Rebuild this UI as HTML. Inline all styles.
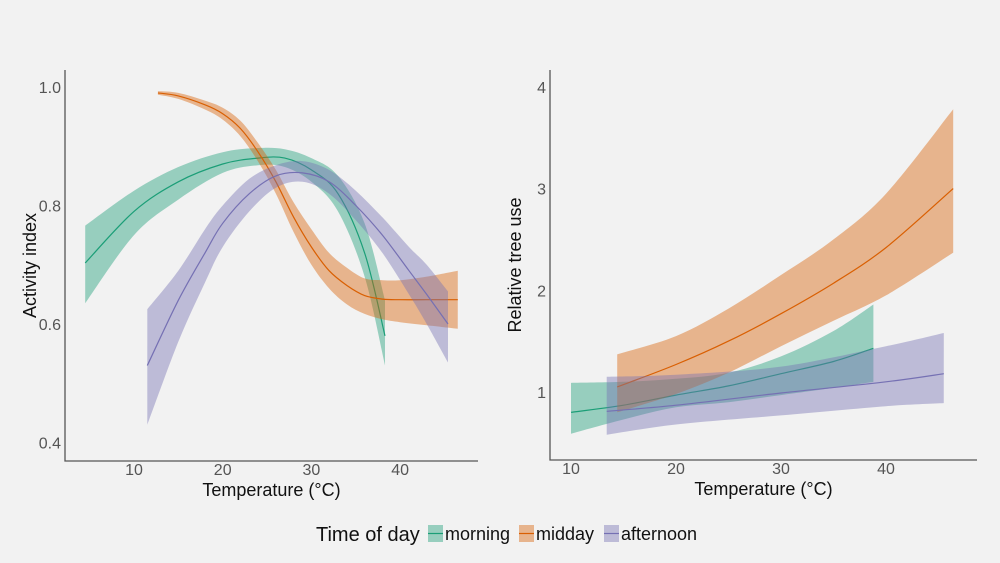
<!DOCTYPE html>
<html><head><meta charset="utf-8"><style>
body{margin:0;background:#f2f2f2;}
svg{display:block;font-family:"Liberation Sans",Arial,sans-serif;}
</style></head><body>
<svg id="c" width="1000" height="563" viewBox="0 0 1000 563">
<rect width="1000" height="563" fill="#f2f2f2"/>
</svg>
<script>
// ---- Left panel data (Activity index) ----
const leftXTicks=[10,20,30,40];
const leftYTicks=[0.4,0.6,0.8,1.0];
const leftYTickLabels=["0.4","0.6","0.8","1.0"];
const lMornX=[4.5,10,15,20,24,27,30,33,36,38.3];
const lMornY=[0.703,0.79,0.84,0.87,0.88,0.88,0.86,0.82,0.72,0.58];
const lMornLo=[0.635,0.75,0.81,0.855,0.868,0.865,0.84,0.79,0.68,0.53];
const lMornHi=[0.766,0.825,0.865,0.89,0.897,0.895,0.88,0.85,0.77,0.64];
const lMidX=[12.7,15,18,20,22,24,26,28,30,32,34,36,38,40,43,46.5];
const lMidY=[0.99,0.985,0.97,0.955,0.93,0.89,0.84,0.78,0.73,0.69,0.665,0.648,0.642,0.641,0.641,0.641];
const lMidLo=[0.987,0.98,0.962,0.945,0.917,0.874,0.82,0.755,0.7,0.66,0.633,0.617,0.608,0.603,0.598,0.592];
const lMidHi=[0.993,0.99,0.977,0.965,0.943,0.905,0.86,0.805,0.76,0.72,0.695,0.677,0.674,0.674,0.68,0.69];
const lAftX=[11.5,15,18,20,23,26,29,32,35,38,41,43,45.4];
const lAftY=[0.53,0.64,0.72,0.77,0.82,0.85,0.855,0.84,0.8,0.75,0.69,0.65,0.6];
const lAftLo=[0.43,0.57,0.67,0.73,0.79,0.83,0.84,0.82,0.775,0.72,0.65,0.6,0.535];
const lAftHi=[0.625,0.69,0.76,0.8,0.845,0.868,0.875,0.86,0.825,0.78,0.73,0.7,0.655];
// ---- Right panel data (Relative tree use) ----
const rightXTicks=[10,20,30,40];
const rightYTicks=[1,2,3,4];
const rMornX=[10,15,20,25,30,35,38.8];
const rMornY=[0.8,0.87,0.97,1.06,1.18,1.3,1.43];
const rMornLo=[0.59,0.73,0.85,0.9,0.97,1.04,1.1];
const rMornHi=[1.09,1.1,1.13,1.19,1.35,1.6,1.86];
const rMidX=[14.4,20,25,30,35,40,46.4];
const rMidY=[1.05,1.27,1.5,1.77,2.07,2.42,3.0];
const rMidLo=[0.8,0.98,1.19,1.45,1.7,1.95,2.37];
const rMidHi=[1.37,1.55,1.82,2.15,2.5,2.95,3.78];
const rAftX=[13.4,20,30,40,45.5];
const rAftY=[0.81,0.87,0.99,1.1,1.18];
const rAftLo=[0.58,0.68,0.77,0.86,0.89];
const rAftHi=[1.15,1.17,1.25,1.45,1.58];
const legendLabels=["morning","midday","afternoon"];

const NS="http://www.w3.org/2000/svg";
const svg=document.getElementById('c');
const COL={g:"#1b9e77",o:"#d95f02",p:"#7570b3"};
function mk(tag,attrs,parent){const e=document.createElementNS(NS,tag);for(const k in attrs)e.setAttribute(k,attrs[k]);(parent||svg).appendChild(e);return e;}

const lx=v=>134+(v-10)*8.87, ly=v=>87+(1.0-v)*592.5;
const rx=v=>571+(v-10)*10.5, ry=v=>392-(v-1)*101.7;

// Catmull-Rom smoothed path through points (continuing existing path)
function smooth(pts){
  let d="";
  for(let i=0;i<pts.length-1;i++){
    const p0=pts[Math.max(0,i-1)],p1=pts[i],p2=pts[i+1],p3=pts[Math.min(pts.length-1,i+2)];
    const c1=[p1[0]+(p2[0]-p0[0])/6,p1[1]+(p2[1]-p0[1])/6];
    const c2=[p2[0]-(p3[0]-p1[0])/6,p2[1]-(p3[1]-p1[1])/6];
    d+=`C${c1[0].toFixed(1)},${c1[1].toFixed(1)} ${c2[0].toFixed(1)},${c2[1].toFixed(1)} ${p2[0].toFixed(1)},${p2[1].toFixed(1)}`;
  }
  return d;
}
function series(xs,ys,lo,hi,sx,sy,col,name){
  const top=xs.map((x,i)=>[sx(x),sy(hi[i])]);
  const bot=xs.map((x,i)=>[sx(x),sy(lo[i])]).reverse();
  const d="M"+top[0].join(",")+smooth(top)+"L"+bot[0].join(",")+smooth(bot)+"Z";
  const band=mk("path",{d:d,fill:col,"fill-opacity":0.42,stroke:"none"});
  
  
  const mid=xs.map((x,i)=>[sx(x),sy(ys[i])]);
  const line=mk("path",{d:"M"+mid[0].join(",")+smooth(mid),fill:"none",stroke:col,"stroke-width":1.2});
  
  
}
function axes(x0,x1,yTop,yBot,xt,sx,yt,ytl,sy,ylab,pfx){
  const a=mk("path",{d:`M${x0},${yTop}V${yBot}H${x1}`,fill:"none",stroke:"#555","stroke-width":1.3});
  
  
  xt.forEach(v=>{
    const t=mk("text",{x:sx(v),y:yBot+14,"text-anchor":"middle","font-size":16,fill:"#555"});t.textContent=v;
    
    });
  yt.forEach((v,i)=>{
    const t=mk("text",{x:x0-4,y:sy(v)+6,"text-anchor":"end","font-size":16,fill:"#555"});t.textContent=ytl[i];
    
    });
  const xl=mk("text",{x:(x0+x1)/2,y:yBot+35,"text-anchor":"middle","font-size":18,fill:"#111"});xl.textContent="Temperature (°C)";
  
  
  const cy=(yTop+yBot)/2;
  const yl=mk("text",{x:0,y:0,transform:`translate(${x0-29},${cy}) rotate(-90)`,"text-anchor":"middle","font-size":18,fill:"#111"});yl.textContent=ylab;
  
  
}
series(lMornX,lMornY,lMornLo,lMornHi,lx,ly,COL.g,"left-morning");
series(lMidX,lMidY,lMidLo,lMidHi,lx,ly,COL.o,"left-midday");
series(lAftX,lAftY,lAftLo,lAftHi,lx,ly,COL.p,"left-afternoon");
axes(65,478,70,461,leftXTicks,lx,leftYTicks,leftYTickLabels,ly,"Activity index","left");
series(rMornX,rMornY,rMornLo,rMornHi,rx,ry,COL.g,"right-morning");
series(rMidX,rMidY,rMidLo,rMidHi,rx,ry,COL.o,"right-midday");
series(rAftX,rAftY,rAftLo,rAftHi,rx,ry,COL.p,"right-afternoon");
axes(550,977,70,460,rightXTicks,rx,rightYTicks,rightYTicks.map(String),ry,"Relative tree use","right");
const lt=mk("text",{x:316,y:541,"font-size":20,fill:"#111"});lt.textContent="Time of day";


const lxs=[428,519,604],cols=[COL.g,COL.o,COL.p];
legendLabels.forEach((s,i)=>{
  const g=mk("g",{});
  
  
  mk("rect",{x:lxs[i],y:525,width:15,height:17,fill:cols[i],"fill-opacity":0.42},g);
  mk("line",{x1:lxs[i],x2:lxs[i]+15,y1:533.5,y2:533.5,stroke:cols[i],"stroke-width":1.2},g);
  const t=mk("text",{x:lxs[i]+17,y:540,"font-size":18,fill:"#111"},g);t.textContent=s;
});
</script>
</body></html>
